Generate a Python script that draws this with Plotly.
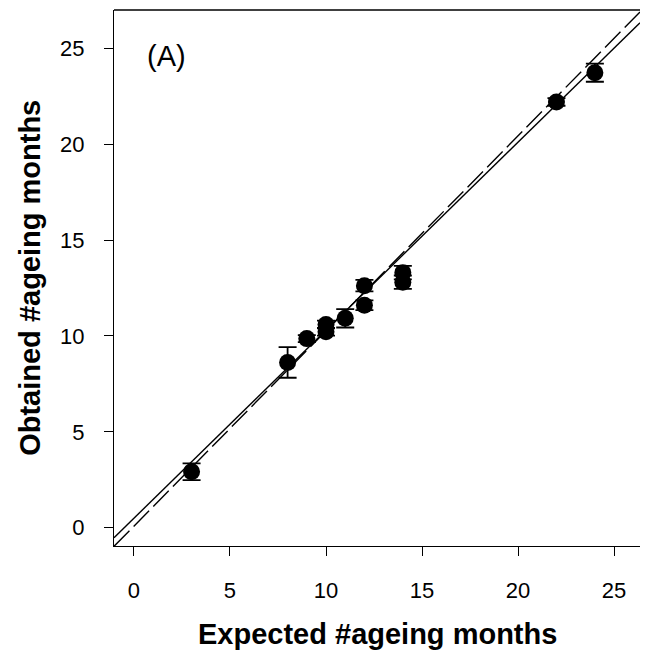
import plotly.graph_objects as go
import numpy as np

# Data
expected = [3, 8, 9, 10, 10, 11, 12, 12, 14, 14, 22, 24]
obtained = [2.92, 8.62, 9.86, 10.22, 10.6, 10.92, 11.6, 12.62, 13.3, 12.8, 22.2, 23.72]
err = [0.44, 0.8, 0.18, 0.2, 0.2, 0.48, 0.25, 0.3, 0.35, 0.35, 0.2, 0.47]

# Fitted lines (intercept, slope)
solid_fit = (0.5, 0.98)
dashed_fit = (0.09, 1.017)

x_range = [-1.04, 26.35]
y_range = [-0.95, 26.99]
ticks = [0, 5, 10, 15, 20, 25]

xl = np.array(x_range)

fig = go.Figure()

fig.add_trace(go.Scatter(
    x=xl, y=solid_fit[0] + solid_fit[1] * xl, mode="lines",
    line=dict(color="black", width=1.4), showlegend=False))
fig.add_trace(go.Scatter(
    x=xl, y=dashed_fit[0] + dashed_fit[1] * xl, mode="lines",
    line=dict(color="black", width=1.4, dash="22px,6px"), showlegend=False))

fig.add_trace(go.Scatter(
    x=expected, y=obtained, mode="markers",
    marker=dict(color="black", size=17, line=dict(width=0)),
    error_y=dict(type="data", array=err, visible=True, color="black", thickness=1.8, width=9),
    showlegend=False))

axis_common = dict(
    showgrid=False, zeroline=False, showline=True, linecolor="black", linewidth=1.3,
    ticks="outside", ticklen=9, tickwidth=1.3, tickcolor="black",
    tickvals=ticks, ticktext=[str(t) for t in ticks],
    tickfont=dict(family="Liberation Sans, Arial", size=22, color="black"),
    ticklabelstandoff=15,
)

fig.update_layout(
    width=653, height=659,
    margin=dict(l=114, r=13, t=10, b=113),
    plot_bgcolor="white", paper_bgcolor="white",
    xaxis=dict(range=x_range, **axis_common),
    yaxis=dict(range=y_range, **axis_common),
    shapes=[dict(type="line", xref="paper", yref="paper", x0=0, x1=1, y0=1, y1=1,
                 line=dict(color="black", width=1.3))],
    annotations=[
        dict(text="<b>Expected #ageing months</b>", xref="paper", yref="paper",
             x=0.5, y=-0.165, xanchor="center", yanchor="middle", showarrow=False,
             font=dict(family="Liberation Sans, Arial", size=29, color="black")),
        dict(text="<b>Obtained #ageing months</b>", xref="paper", yref="paper",
             x=-0.16, y=0.5, xanchor="center", yanchor="middle", textangle=-90, showarrow=False,
             font=dict(family="Liberation Sans, Arial", size=29, color="black")),
        dict(text="(A)", xref="x", yref="y", x=1.7, y=24.6, xanchor="center", yanchor="middle",
             showarrow=False, font=dict(family="Liberation Sans, Arial", size=29, color="black")),
    ],
)

fig.write_html("out.html")
